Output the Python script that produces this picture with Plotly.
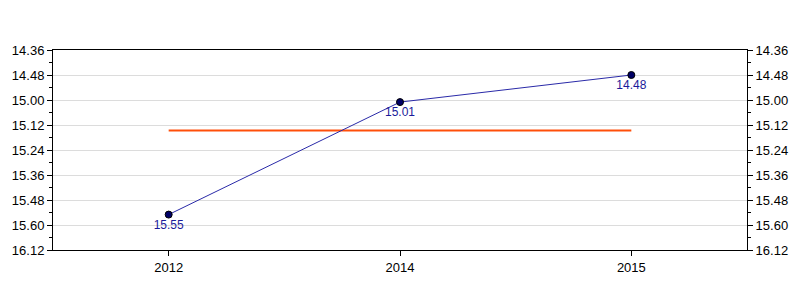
import plotly.graph_objects as go

years = ["2012", "2014", "2015"]
times_sec = [955, 901, 888]
time_labels = ["15.55", "15.01", "14.48"]
mean_sec = [914.67, 914.67, 914.67]
tick_vals = [876, 888, 900, 912, 924, 936, 948, 960, 972]
tick_text = ["14.36", "14.48", "15.00", "15.12", "15.24", "15.36", "15.48", "15.60", "16.12"]

fig = go.Figure()
fig.add_trace(go.Scatter(
    x=years, y=mean_sec, mode="lines",
    line=dict(color="#ff4f0a", width=2), hoverinfo="skip", showlegend=False))
fig.add_trace(go.Scatter(
    x=years, y=times_sec, mode="lines+markers+text",
    text=time_labels, textposition="bottom center",
    textfont=dict(color="#1a1a9a", size=12, family="Liberation Sans, Arial"),
    line=dict(color="#2a2aa8", width=1),
    marker=dict(color="#000066", size=7, line=dict(color="#000000", width=1)),
    showlegend=False))
# invisible trace on right axis
fig.add_trace(go.Scatter(x=years, y=times_sec, yaxis="y2", mode="markers",
                         marker=dict(opacity=0), hoverinfo="skip", showlegend=False))

yax = dict(
    range=[972, 876], tickmode="array", tickvals=tick_vals, ticktext=tick_text,
    ticks="outside", ticklen=5, tickcolor="black",
    showline=True, linecolor="black", linewidth=1,
    tickfont=dict(size=13, color="black", family="Liberation Sans, Arial"),
    minor=dict(tick0=876, dtick=6, ticks="outside", ticklen=3, tickcolor="black", showgrid=False),
    zeroline=False,
)
fig.update_layout(
    width=800, height=300,
    margin=dict(l=50, r=50, t=50, b=50),
    paper_bgcolor="white", plot_bgcolor="white",
    xaxis=dict(type="category", range=[-0.5, 2.5], ticks="outside", ticklen=5,
               tickcolor="black", showline=True, linecolor="black", linewidth=1,
               mirror=True, showgrid=False,
               tickfont=dict(size=13, color="black", family="Liberation Sans, Arial")),
    yaxis=dict(**yax, showgrid=True, gridcolor="#dcdcdc", gridwidth=1),
    yaxis2=dict(**yax, overlaying="y", side="right", showgrid=False),
)
fig.write_html("out.html")
